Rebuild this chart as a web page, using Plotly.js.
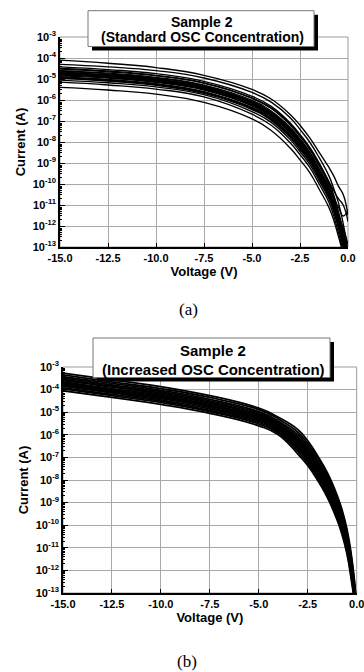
<!DOCTYPE html>
<html><head><meta charset="utf-8">
<script src="https://cdn.plot.ly/plotly-3.0.1.min.js"></script>
<style>html,body{margin:0;padding:0;background:#fff;}#chart{width:364px;height:672px;}</style>
</head><body><div id="chart"></div>
<script>
// ---------- data ----------
const voltage = [-15, -12.5, -10, -7.5, -5, -4, -3, -2.5, -2, -1.5, -1, -0.75, -0.5, -0.25, 0];

// (a) Standard OSC concentration, current (A)
const stdI01 = [7.9e-5, 5.6e-5, 3.5e-5, 1.5e-5, 3.2e-6, 1.12e-6, 2.0e-7, 6.3e-8, 1.6e-8, 3.2e-9, 6.3e-10, 2.5e-10, 7.9e-11, 3.2e-11, 3.2e-12];
const stdI02 = [5.0e-5, 3.8e-5, 2.5e-5, 1.12e-5, 2.3e-6, 7.9e-7, 1.4e-7, 4.0e-8, 1.0e-8, 1.8e-9, 2.5e-10, 6.3e-11, 1.3e-11, 1.3e-12, 6.3e-14];
const stdI03 = [3.8e-5, 2.8e-5, 1.8e-5, 7.7e-6, 1.5e-6, 5.0e-7, 7.9e-8, 2.3e-8, 5.6e-9, 8.9e-10, 1.3e-10, 3.2e-11, 5.0e-12, 6.3e-13, 4.0e-14];
const stdI04 = [3.0e-5, 2.2e-5, 1.4e-5, 6.2e-6, 1.2e-6, 4.0e-7, 6.3e-8, 1.8e-8, 4.5e-9, 7.1e-10, 1.0e-10, 2.5e-11, 4.0e-12, 4.0e-13, 3.2e-14];
const stdI05 = [2.5e-5, 1.9e-5, 1.2e-5, 5.1e-6, 9.6e-7, 3.0e-7, 4.8e-8, 1.4e-8, 3.4e-9, 5.2e-10, 7.6e-11, 1.9e-11, 3.2e-12, 4.0e-13, 4.0e-14];
const stdI06 = [2.2e-5, 1.6e-5, 1.0e-5, 4.4e-6, 7.9e-7, 2.5e-7, 4.0e-8, 1.12e-8, 2.8e-9, 4.5e-10, 6.3e-11, 1.6e-11, 2.5e-12, 3.2e-13, 3.2e-14];
const stdI07 = [1.9e-5, 1.4e-5, 8.9e-6, 3.9e-6, 6.9e-7, 2.1e-7, 3.5e-8, 1.0e-8, 2.5e-9, 4.0e-10, 5.6e-11, 1.4e-11, 2.2e-12, 2.8e-13, 3.2e-14];
const stdI08 = [1.7e-5, 1.3e-5, 7.9e-6, 3.4e-6, 6.0e-7, 1.9e-7, 3.0e-8, 8.3e-9, 2.1e-9, 3.3e-10, 4.7e-11, 1.2e-11, 2.0e-12, 2.5e-13, 3.2e-14];
const stdI09 = [1.4e-5, 1.1e-5, 6.9e-6, 3.0e-6, 5.3e-7, 1.6e-7, 2.5e-8, 7.1e-9, 1.8e-9, 2.8e-10, 4.0e-11, 1.0e-11, 1.6e-12, 2.0e-13, 2.5e-14];
const stdI10 = [1.3e-5, 9.5e-6, 6.0e-6, 2.5e-6, 4.4e-7, 1.4e-7, 2.0e-8, 5.7e-9, 1.5e-9, 2.2e-10, 3.2e-11, 7.9e-12, 1.3e-12, 1.6e-13, 2.0e-14];
const stdI11 = [1.1e-5, 7.9e-6, 5.0e-6, 2.05e-6, 3.5e-7, 1.07e-7, 1.6e-8, 4.4e-9, 1.12e-9, 1.8e-10, 2.5e-11, 6.3e-12, 1.0e-12, 1.3e-13, 1.6e-14];
const stdI12 = [8.9e-6, 6.6e-6, 4.2e-6, 1.8e-6, 2.8e-7, 8.6e-8, 1.26e-8, 3.5e-9, 8.9e-10, 1.4e-10, 2.0e-11, 5.0e-12, 7.9e-13, 1.0e-13, 1.6e-14];
const stdI13 = [7.1e-6, 5.2e-6, 3.3e-6, 1.4e-6, 2.1e-7, 6.3e-8, 8.9e-9, 2.5e-9, 6.3e-10, 1.0e-10, 1.4e-11, 3.2e-12, 5.0e-13, 6.3e-14, 1.0e-14];
const stdI14 = [4.0e-6, 3.0e-6, 1.9e-6, 7.7e-7, 1.26e-7, 3.5e-8, 5.0e-9, 1.4e-9, 3.6e-10, 5.6e-11, 7.9e-12, 2.0e-12, 3.2e-13, 5.0e-14, 1.0e-14];
const stdI15 = [3.2e-5, 2.4e-5, 1.5e-5, 6.6e-6, 1.26e-6, 4.2e-7, 7.1e-8, 2.0e-8, 5.6e-9, 1.0e-9, 1.3e-10, 5.0e-11, 2.0e-11, 1.0e-11, 1.6e-12];
const stdI16 = [1.1e-5, 8.3e-6, 5.4e-6, 2.3e-6, 4.2e-7, 1.26e-7, 2.1e-8, 6.3e-9, 1.6e-9, 2.5e-10, 3.5e-11, 1.0e-11, 2.5e-12, 7.9e-13, 1.3e-13];
const stdI17 = [2.4e-5, 1.75e-5, 1.1e-5, 4.7e-6, 8.5e-7, 2.7e-7, 4.4e-8, 1.25e-8, 3.1e-9, 4.8e-10, 7.0e-11, 1.7e-11, 2.8e-12, 3.6e-13, 3.6e-14];
const stdI18 = [1.8e-5, 1.35e-5, 8.4e-6, 3.6e-6, 6.4e-7, 2.0e-7, 3.2e-8, 9.0e-9, 2.3e-9, 3.6e-10, 5.1e-11, 1.3e-11, 2.1e-12, 2.6e-13, 3.2e-14];
const stdI19 = [1.55e-5, 1.2e-5, 7.4e-6, 3.2e-6, 5.6e-7, 1.75e-7, 2.7e-8, 7.7e-9, 1.95e-9, 3.0e-10, 4.3e-11, 1.1e-11, 1.8e-12, 2.2e-13, 2.8e-14];
const stdI20 = [1.2e-5, 8.8e-6, 5.6e-6, 2.3e-6, 3.9e-7, 1.2e-7, 1.8e-8, 5.0e-9, 1.3e-9, 2.0e-10, 2.8e-11, 7.0e-12, 1.15e-12, 1.5e-13, 1.8e-14];
const stdI21 = [2.0e-5, 1.5e-5, 9.5e-6, 4.0e-6, 7.2e-7, 2.3e-7, 3.7e-8, 1.05e-8, 2.6e-9, 4.2e-10, 6.0e-11, 2.0e-11, 8.0e-12, 3.0e-12, 6.0e-12];

// (b) Increased OSC concentration, current (A)
const incI01 = [5.4e-4, 2.7e-4, 1.35e-4, 5.4e-5, 1.5e-5, 6.0e-6, 1.7e-6, 5.4e-7, 1.2e-7, 2.1e-8, 2.1e-9, 4.8e-10, 6.8e-11, 3.4e-12, 3.2e-14];
const incI02 = [4.5e-4, 2.2e-4, 1.1e-4, 4.5e-5, 1.3e-5, 5.0e-6, 1.3e-6, 4.1e-7, 9.3e-8, 1.7e-8, 1.7e-9, 3.7e-10, 5.2e-11, 2.6e-12, 2.5e-14];
const incI03 = [3.7e-4, 1.9e-4, 9.3e-5, 3.7e-5, 1.05e-5, 4.1e-6, 1.02e-6, 3.25e-7, 7.2e-8, 1.3e-8, 1.3e-9, 2.9e-10, 4.1e-11, 2.0e-12, 2.0e-14];
const incI04 = [3.2e-4, 1.6e-4, 8.1e-5, 3.2e-5, 9.1e-6, 3.65e-6, 8.3e-7, 2.6e-7, 5.9e-8, 1.05e-8, 1.05e-9, 2.3e-10, 3.3e-11, 1.7e-12, 1.6e-14];
const incI05 = [2.8e-4, 1.4e-4, 7.1e-5, 2.8e-5, 7.9e-6, 3.2e-6, 6.9e-7, 2.1e-7, 4.9e-8, 8.7e-9, 8.7e-10, 1.9e-10, 2.8e-11, 1.4e-12, 1.3e-14];
const incI06 = [2.5e-4, 1.3e-4, 6.3e-5, 2.5e-5, 7.1e-6, 2.8e-6, 5.9e-7, 1.9e-7, 4.2e-8, 7.4e-9, 7.4e-10, 1.7e-10, 2.3e-11, 1.2e-12, 1.0e-14];
const incI07 = [2.2e-4, 1.1e-4, 5.6e-5, 2.2e-5, 6.3e-6, 2.5e-6, 5.0e-7, 1.57e-7, 3.5e-8, 6.3e-9, 6.3e-10, 1.4e-10, 2.0e-11, 1.0e-12, 1.0e-14];
const incI08 = [2.0e-4, 1.0e-4, 5.0e-5, 2.0e-5, 5.6e-6, 2.2e-6, 4.3e-7, 1.35e-7, 3.0e-8, 5.4e-9, 5.4e-10, 1.2e-10, 1.7e-11, 8.5e-13, 1.0e-14];
const incI09 = [1.8e-4, 8.9e-5, 4.5e-5, 1.8e-5, 5.0e-6, 2.0e-6, 3.6e-7, 1.14e-7, 2.6e-8, 4.6e-9, 4.6e-10, 1.02e-10, 1.45e-11, 7.2e-13, 1.0e-14];
const incI10 = [1.6e-4, 7.9e-5, 4.0e-5, 1.6e-5, 4.5e-6, 1.75e-6, 3.1e-7, 9.7e-8, 2.2e-8, 3.9e-9, 3.9e-10, 8.7e-11, 1.2e-11, 6.2e-13, 1.0e-14];
const incI11 = [1.4e-4, 7.1e-5, 3.5e-5, 1.4e-5, 4.0e-6, 1.6e-6, 2.6e-7, 8.3e-8, 1.9e-8, 3.3e-9, 3.3e-10, 7.4e-11, 1.05e-11, 5.2e-13, 1.0e-14];
const incI12 = [1.2e-4, 6.2e-5, 3.1e-5, 1.2e-5, 3.5e-6, 1.35e-6, 2.2e-7, 6.9e-8, 1.55e-8, 2.75e-9, 2.75e-10, 6.2e-11, 8.7e-12, 4.4e-13, 1.0e-14];
const incI13 = [1.07e-4, 5.4e-5, 2.7e-5, 1.07e-5, 3.0e-6, 1.2e-6, 1.8e-7, 5.6e-8, 1.26e-8, 2.2e-9, 2.2e-10, 5.0e-11, 7.1e-12, 3.5e-13, 1.0e-14];
const incI14 = [8.9e-5, 4.5e-5, 2.2e-5, 8.9e-6, 2.5e-6, 1.0e-6, 1.4e-7, 4.4e-8, 9.8e-9, 1.7e-9, 1.7e-10, 3.9e-11, 5.5e-12, 2.75e-13, 1.0e-14];

const xTickValues = [-15, -12.5, -10, -7.5, -5, -2.5, 0];
const xTickText = ["-15.0", "-12.5", "-10.0", "-7.5", "-5.0", "-2.5", "0.0"];
const yTickValues = [1e-13, 1e-12, 1e-11, 1e-10, 1e-9, 1e-8, 1e-7, 1e-6, 1e-5, 1e-4, 1e-3];
const yTickText = ["10<sup>-13</sup>", "10<sup>-12</sup>", "10<sup>-11</sup>", "10<sup>-10</sup>", "10<sup>-9</sup>", "10<sup>-8</sup>", "10<sup>-7</sup>", "10<sup>-6</sup>", "10<sup>-5</sup>", "10<sup>-4</sup>", "10<sup>-3</sup>"];

const standardSeries = [stdI01, stdI02, stdI03, stdI04, stdI05, stdI06, stdI07, stdI08, stdI09, stdI10, stdI11, stdI12, stdI13, stdI14, stdI15, stdI16, stdI17, stdI18, stdI19, stdI20, stdI21];
const increasedSeries = [incI01, incI02, incI03, incI04, incI05, incI06, incI07, incI08, incI09, incI10, incI11, incI12, incI13, incI14];

// ---------- chart ----------
const W = 364, H = 672;
const px = v => v / W;
const py = v => 1 - v / H;
const SANS = 'Liberation Sans, Arial, Helvetica, sans-serif';
const SERIF = 'Liberation Serif, Times New Roman, serif';

const traces = [];
standardSeries.forEach(s => traces.push({
  x: voltage, y: s, xaxis: 'x', yaxis: 'y', type: 'scatter', mode: 'lines',
  line: {color: '#000', width: 1.35, shape: 'spline', smoothing: 1.3}, hoverinfo: 'skip', showlegend: false
}));
increasedSeries.forEach(s => traces.push({
  x: voltage, y: s, xaxis: 'x2', yaxis: 'y2', type: 'scatter', mode: 'lines',
  line: {color: '#000', width: 1.8, shape: 'spline', smoothing: 1.3}, hoverinfo: 'skip', showlegend: false
}));

function xAxis(domain, anchor, fs) {
  return {
    domain: domain, anchor: anchor, range: [-15, 0], tickmode: 'array', tickvals: xTickValues, ticktext: xTickText,
    ticks: 'inside', ticklen: 4, tickcolor: '#000', tickwidth: 1, ticklabeloverflow: 'allow',
    showline: true, linecolor: '#000', linewidth: 1.5, mirror: false,
    showgrid: true, gridcolor: '#a8a8a8', gridwidth: 1, zeroline: false,
    tickfont: {family: SANS, size: fs, color: '#000', weight: 'bold'},
    title: {text: 'Voltage (V)', font: {family: SANS, size: fs + 2, color: '#000', weight: 'bold'}, standoff: 0}
  };
}
function yAxis(domain, anchor, fs) {
  return {
    domain: domain, anchor: anchor, type: 'log', range: [-13, -3], tickmode: 'array', tickvals: yTickValues, ticktext: yTickText,
    ticks: 'inside', ticklen: 5, tickcolor: '#000', tickwidth: 1, ticklabeloverflow: 'allow',
    minor: {ticks: 'inside', ticklen: 2.5, tickcolor: '#000', dtick: 'D1', showgrid: false},
    showline: true, linecolor: '#000', linewidth: 1.5, mirror: false,
    showgrid: true, gridcolor: '#a8a8a8', gridwidth: 1, zeroline: false,
    tickfont: {family: SANS, size: fs, color: '#000', weight: 'bold'},
    title: {text: 'Current (A)', font: {family: SANS, size: fs + 2, color: '#000', weight: 'bold'}, standoff: 4}
  };
}

function titleBox(x0, y0, x1, y1) {
  return [
    {type: 'rect', xref: 'paper', yref: 'paper', x0: px(x0 + 4), x1: px(x1 + 4), y0: py(y1 + 4), y1: py(y0 + 4),
      fillcolor: '#000', line: {width: 0}, layer: 'above'},
    {type: 'rect', xref: 'paper', yref: 'paper', x0: px(x0), x1: px(x1), y0: py(y1), y1: py(y0),
      fillcolor: '#fff', line: {color: '#777', width: 1}, layer: 'above'}
  ];
}
function frame(xr, yr) {
  return {type: 'rect', xref: xr + ' domain', yref: yr + ' domain', x0: 0, x1: 1, y0: 0, y1: 1,
    line: {color: '#999', width: 1}, fillcolor: 'rgba(0,0,0,0)', layer: 'below'};
}

const layout = {
  width: W, height: H, margin: {l: 0, r: 0, t: 0, b: 0}, paper_bgcolor: '#fff', plot_bgcolor: '#fff',
  showlegend: false,
  xaxis: xAxis([px(60), px(348)], 'y', 11),
  yaxis: yAxis([py(247), py(37)], 'x', 11),
  xaxis2: xAxis([px(63), px(356.7)], 'y2', 11),
  yaxis2: yAxis([py(593), py(367)], 'x2', 11),
  shapes: [frame('x', 'y'), frame('x2', 'y2')].concat(titleBox(88, 10.7, 314, 46.5), titleBox(93, 338, 330, 377.5)),
  annotations: [
    {text: 'Sample 2', xref: 'paper', yref: 'paper', x: px(202), y: py(21.5), xanchor: 'center', yanchor: 'middle', showarrow: false,
      font: {family: SANS, size: 14, color: '#000', weight: 'bold'}},
    {text: '(Standard OSC Concentration)', xref: 'paper', yref: 'paper', x: px(202), y: py(37.5), xanchor: 'center', yanchor: 'middle', showarrow: false,
      font: {family: SANS, size: 14, color: '#000', weight: 'bold'}},
    {text: 'Sample 2', xref: 'paper', yref: 'paper', x: px(213), y: py(350.5), xanchor: 'center', yanchor: 'middle', showarrow: false,
      font: {family: SANS, size: 15, color: '#000', weight: 'bold'}},
    {text: '(Increased OSC Concentration)', xref: 'paper', yref: 'paper', x: px(213), y: py(369), xanchor: 'center', yanchor: 'middle', showarrow: false,
      font: {family: SANS, size: 15, color: '#000', weight: 'bold'}},
    {text: '(a)', xref: 'paper', yref: 'paper', x: px(188), y: py(309), xanchor: 'center', yanchor: 'middle', showarrow: false,
      font: {family: SERIF, size: 17, color: '#000'}},
    {text: '(b)', xref: 'paper', yref: 'paper', x: px(187), y: py(661), xanchor: 'center', yanchor: 'middle', showarrow: false,
      font: {family: SERIF, size: 17, color: '#000'}}
  ]
};

Plotly.newPlot('chart', traces, layout, {displayModeBar: false});
</script>
</body></html>
